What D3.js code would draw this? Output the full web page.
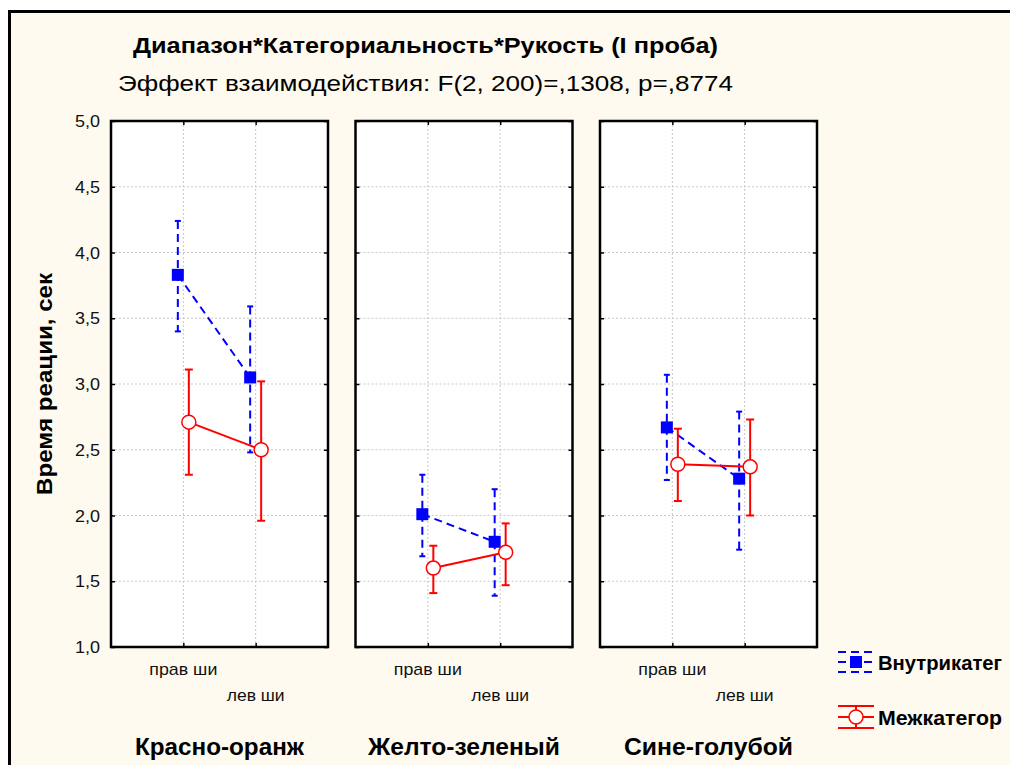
<!DOCTYPE html>
<html>
<head>
<meta charset="utf-8">
<script src="https://cdn.jsdelivr.net/npm/d3@7"></script>
<style>
  body { margin: 0; background: #fff; }
  svg { display: block; font-family: "Liberation Sans", Arial, sans-serif; }
</style>
</head>
<body>
<svg id="chart" width="1010" height="765"></svg>
<script>
// data
const panels = ["Красно-оранж", "Желто-зеленый", "Сине-голубой"];
const panelLabelLen = [169, 192, 169];
const hands = ["прав ши", "лев ши"];
const handLabelLen = [68, 58];
const yTicks = [1.0, 1.5, 2.0, 2.5, 3.0, 3.5, 4.0, 4.5, 5.0];

// Внутрикатег (per panel: прав ши, лев ши)
const withinMean = [3.83, 3.05, 2.01, 1.80, 2.67, 2.28];
const withinHigh = [4.24, 3.59, 2.31, 2.20, 3.07, 2.79];
const withinLow  = [3.40, 2.48, 1.69, 1.39, 2.27, 1.74];
// Межкатегор
const betweenMean = [2.71, 2.50, 1.60, 1.72, 2.39, 2.37];
const betweenHigh = [3.11, 3.02, 1.77, 1.94, 2.66, 2.73];
const betweenLow  = [2.31, 1.96, 1.41, 1.47, 2.11, 2.00];

const seriesNames = ["Внутрикатег", "Межкатегор"];

const svg = d3.select("#chart");
const fmt = d => d3.format(".1f")(d).replace(".", ",");
// the original glyphs are drawn wider than Arial: stretch them to the measured width
const fit = (sel, len) => sel.attr("textLength", len).attr("lengthAdjust", "spacingAndGlyphs");

// frame
svg.append("rect")
    .attr("x", 9.5).attr("y", 11.5)
    .attr("width", 1010).attr("height", 770)
    .attr("fill", "#fefaef")
    .attr("stroke", "#000").attr("stroke-width", 3);

svg.append("text")
    .attr("x", 133).attr("y", 53)
    .attr("font-size", 22).attr("font-weight", "bold")
    .call(fit, 585)
    .text("Диапазон*Категориальность*Рукость (I проба)");

svg.append("text")
    .attr("x", 118).attr("y", 91)
    .attr("font-size", 22)
    .call(fit, 615)
    .text("Эффект взаимодействия: F(2, 200)=,1308, p=,8774");

const y = d3.scaleLinear().domain([1, 5]).range([647, 121]);
const px = d3.scaleBand().domain(panels).range([111, 817]).paddingInner(0.1125);

// y axis title
svg.append("text")
    .attr("transform", "translate(52,384) rotate(-90)")
    .attr("text-anchor", "middle")
    .attr("font-size", 21.5).attr("font-weight", "bold")
    .call(fit, 222)
    .text("Время реации, сек");

// y tick labels
svg.append("g").selectAll("text")
    .data(yTicks)
    .join("text")
    .attr("x", 100).attr("y", d => y(d) + 6)
    .attr("text-anchor", "end")
    .attr("font-size", 16.5)
    .call(fit, 25)
    .attr("fill", "#111")
    .text(fmt);

const series = [
    { name: seriesNames[0], mean: withinMean, lo: withinLow, hi: withinHigh,
      color: "#0000ff", dash: "8,5", off: -5.5, cap: 3 },
    { name: seriesNames[1], mean: betweenMean, lo: betweenLow, hi: betweenHigh,
      color: "#ff0000", dash: null, off: 5.5, cap: 4 }
];

panels.forEach((p, pi) => {
    const x0 = px(p), w = px.bandwidth();
    const x = d3.scalePoint().domain(hands).range([x0, x0 + w]).padding(1);
    const g = svg.append("g");

    g.append("rect")
        .attr("x", x0).attr("y", y(5))
        .attr("width", w).attr("height", y(1) - y(5))
        .attr("fill", "#fff");

    // grid
    g.selectAll(".gy").data(yTicks.slice(1, -1)).join("line")
        .attr("x1", x0).attr("x2", x0 + w)
        .attr("y1", d => y(d)).attr("y2", d => y(d))
        .attr("stroke", "#c8c8c8").attr("stroke-dasharray", "2,2");
    g.selectAll(".gx").data(hands).join("line")
        .attr("x1", d => x(d)).attr("x2", d => x(d))
        .attr("y1", y(5)).attr("y2", y(1))
        .attr("stroke", "#c8c8c8").attr("stroke-dasharray", "2,2");

    // inward ticks
    const tl = d3.axisLeft(y).tickValues(yTicks).tickSize(-4).tickFormat("");
    const tr = d3.axisRight(y).tickValues(yTicks).tickSize(-4).tickFormat("");
    const tb = d3.axisBottom(x).tickSize(-4).tickFormat("");
    const tt = d3.axisTop(x).tickSize(-4).tickFormat("");
    [[tl, `translate(${x0},0)`], [tr, `translate(${x0 + w},0)`],
     [tb, `translate(0,${y(1)})`], [tt, `translate(0,${y(5)})`]].forEach(([ax, tr0]) => {
        const a = g.append("g").attr("transform", tr0).call(ax);
        a.select(".domain").remove();
        a.selectAll("line").attr("stroke", "#000").attr("stroke-width", 1.5);
    });

    g.append("rect")
        .attr("x", x0).attr("y", y(5))
        .attr("width", w).attr("height", y(1) - y(5))
        .attr("fill", "none").attr("stroke", "#000").attr("stroke-width", 2.5);

    // category labels
    [675, 701].forEach((ty, hi) => {
        g.append("text")
            .attr("x", x(hands[hi])).attr("y", ty)
            .attr("text-anchor", "middle").attr("font-size", 17)
            .call(fit, handLabelLen[hi])
            .attr("fill", "#111")
            .text(hands[hi]);
    });

    g.append("text")
        .attr("x", x0 + w / 2).attr("y", 755)
        .attr("text-anchor", "middle")
        .attr("font-size", 23).attr("font-weight", "bold")
        .call(fit, panelLabelLen[pi])
        .text(p);

    series.forEach(s => {
        const pts = hands.map((h, hi) => {
            const k = pi * 2 + hi;
            return { x: x(h) + s.off, m: s.mean[k], lo: s.lo[k], hi: s.hi[k] };
        });
        const sg = g.append("g")
            .attr("stroke", s.color).attr("stroke-width", 2).attr("fill", "none");

        sg.selectAll(".eb").data(pts).join("line")
            .attr("x1", d => d.x).attr("x2", d => d.x)
            .attr("y1", d => y(d.hi)).attr("y2", d => y(d.lo))
            .attr("stroke-dasharray", s.dash);
        sg.selectAll(".cap").data(pts.flatMap(d => [[d.x, d.hi], [d.x, d.lo]])).join("line")
            .attr("x1", d => d[0] - s.cap).attr("x2", d => d[0] + s.cap)
            .attr("y1", d => y(d[1])).attr("y2", d => y(d[1]));

        sg.append("path")
            .attr("d", d3.line().x(d => d.x).y(d => y(d.m))(pts))
            .attr("stroke-dasharray", s.dash);

        if (s.dash) {
            sg.selectAll(".mk").data(pts).join("rect")
                .attr("x", d => d.x - 6).attr("y", d => y(d.m) - 6)
                .attr("width", 12).attr("height", 12)
                .attr("fill", s.color).attr("stroke", "none");
        } else {
            sg.selectAll(".mk").data(pts).join("circle")
                .attr("cx", d => d.x).attr("cy", d => y(d.m)).attr("r", 7)
                .attr("fill", "#fff").attr("stroke-width", 1.5);
        }
    });
});

// legend
const leg = svg.append("g");
series.forEach((s, i) => {
    const cy = 662 + i * 55, cx = 856;
    const lg = leg.append("g").attr("stroke", s.color).attr("stroke-width", 2).attr("fill", "none");
    if (s.dash) {
        lg.append("line").attr("x1", cx - 18).attr("x2", cx + 18).attr("y1", cy - 10).attr("y2", cy - 10).attr("stroke-dasharray", "8,5");
        lg.append("line").attr("x1", cx - 18).attr("x2", cx + 18).attr("y1", cy).attr("y2", cy).attr("stroke-dasharray", "8,5");
        lg.append("line").attr("x1", cx - 18).attr("x2", cx + 18).attr("y1", cy + 10).attr("y2", cy + 10).attr("stroke-dasharray", "8,5");
        lg.append("rect").attr("x", cx - 6).attr("y", cy - 6).attr("width", 12).attr("height", 12)
            .attr("fill", s.color).attr("stroke", "none");
    } else {
        lg.append("line").attr("x1", cx - 18).attr("x2", cx + 18).attr("y1", cy - 11).attr("y2", cy - 11);
        lg.append("line").attr("x1", cx - 18).attr("x2", cx + 18).attr("y1", cy).attr("y2", cy);
        lg.append("line").attr("x1", cx - 18).attr("x2", cx + 18).attr("y1", cy + 11).attr("y2", cy + 11);
        lg.append("line").attr("x1", cx).attr("x2", cx).attr("y1", cy - 11).attr("y2", cy + 11);
        lg.append("circle").attr("cx", cx).attr("cy", cy).attr("r", 7)
            .attr("fill", "#fff").attr("stroke-width", 1.5);
    }
    leg.append("text")
        .attr("x", 878).attr("y", cy + 8)
        .attr("font-size", 20).attr("font-weight", "bold")
        .call(fit, 124)
        .text(s.name);
});
</script>
</body>
</html>
